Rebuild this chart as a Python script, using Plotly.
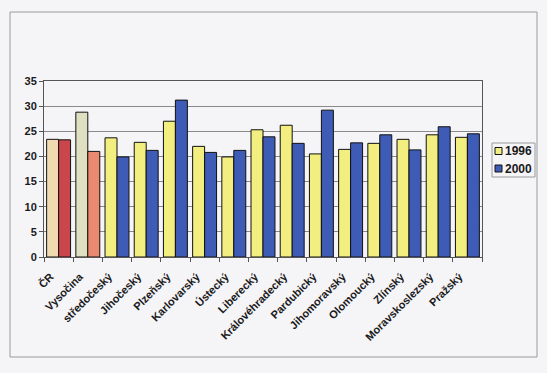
import plotly.graph_objects as go

categories = ["ČR", "Vysočina", "středočeský", "Jihočeský", "Plzeňský", "Karlovarský",
              "Ústecký", "Liberecký", "Královéhradecký", "Pardubický", "Jihomoravský",
              "Olomoucký", "Zlínský", "Moravskoslezský", "Pražský"]
values_1996 = [23.4, 28.8, 23.7, 22.8, 27.0, 22.0, 19.9, 25.3, 26.2, 20.5, 21.4, 22.6, 23.4, 24.3, 23.8]
values_2000 = [23.3, 21.0, 19.9, 21.2, 31.2, 20.8, 21.2, 23.9, 22.6, 29.2, 22.7, 24.3, 21.3, 25.9, 24.5]
series_names = ["1996", "2000"]
highlight = ["ČR", "Vysočina"]
highlight_colors_1996 = ["#f0dbb0", "#dfe0c2"]
highlight_colors_2000 = ["#c9464d", "#e98a70"]

FONT = "Arial, Liberation Sans, sans-serif"
BG = "#f5f4f7"
YEL = "#f3ee80"
BLUE = "#3e5cb5"
series_colors = [YEL, BLUE]

n_hl = len(highlight)
fig = go.Figure()
fig.add_trace(go.Bar(x=categories[n_hl:], y=values_1996[n_hl:], name=series_names[0], offsetgroup="a",
                     marker=dict(color=YEL, line=dict(color="#111", width=1))))
fig.add_trace(go.Bar(x=categories[n_hl:], y=values_2000[n_hl:], name=series_names[1], offsetgroup="b",
                     marker=dict(color=BLUE, line=dict(color="#111", width=1))))
fig.add_trace(go.Bar(x=highlight, y=values_1996[:n_hl], offsetgroup="a",
                     marker=dict(color=highlight_colors_1996, line=dict(color="#111", width=1))))
fig.add_trace(go.Bar(x=highlight, y=values_2000[:n_hl], offsetgroup="b",
                     marker=dict(color=highlight_colors_2000, line=dict(color="#111", width=1))))

W, H = 547, 373
L, R, T, B = 44, 65, 81, 116
pw, ph = W - L - R, H - T - B

def px2x(px):
    return (px - L) / pw

def py2y(py):
    return (H - B - py) / ph

shapes = [
    dict(type="rect", xref="paper", yref="paper",
         x0=px2x(10), x1=px2x(537), y0=py2y(357), y1=py2y(12),
         line=dict(color="#9a9a9a", width=1), fillcolor="rgba(0,0,0,0)", layer="below"),
    dict(type="rect", xref="paper", yref="paper",
         x0=px2x(492), x1=px2x(535), y0=py2y(177), y1=py2y(143),
         line=dict(color="#999", width=1), fillcolor=BG),
]
annotations = []
for i, (nm, col) in enumerate(zip(series_names, series_colors)):
    cy = 151 + i * 17.5
    shapes.append(dict(type="rect", xref="paper", yref="paper",
                       x0=px2x(495), x1=px2x(502), y0=py2y(cy + 3.5), y1=py2y(cy - 3.5),
                       line=dict(color="#111", width=1), fillcolor=col))
    annotations.append(dict(xref="paper", yref="paper", x=px2x(503), y=py2y(cy),
                            xanchor="left", yanchor="middle", text=nm, showarrow=False,
                            font=dict(family=FONT, size=12, color="#1a1a1a", weight="bold")))

fig.update_layout(
    width=W, height=H,
    margin=dict(l=L, r=R, t=T, b=B),
    paper_bgcolor=BG, plot_bgcolor=BG,
    barmode="group", bargap=0.18, bargroupgap=0,
    font=dict(family=FONT, size=11, color="#1a1a1a"),
    showlegend=False,
    xaxis=dict(type="category", categoryorder="array", categoryarray=categories,
               tickangle=-45, tickfont=dict(family=FONT, size=11, weight="bold"),
               ticks="outside", ticklen=4, tickcolor="#555", tickson="boundaries",
               ticklabelstandoff=8, ticklabelshift=-8,
               showline=True, linecolor="#555", linewidth=1, mirror=True,
               showgrid=False, automargin=False),
    yaxis=dict(range=[0, 35], dtick=5, tickfont=dict(family=FONT, size=11, weight="bold"),
               ticks="outside", ticklen=4, tickcolor="#555",
               showline=True, linecolor="#555", linewidth=1, mirror=True,
               showgrid=True, gridcolor="#8a8a8a", gridwidth=1, zeroline=False,
               automargin=False),
    shapes=shapes,
    annotations=annotations,
)

fig.write_html("out.html", config={"displayModeBar": False},
               post_script="document.body.style.margin='0';document.body.style.background='%s';" % BG)
